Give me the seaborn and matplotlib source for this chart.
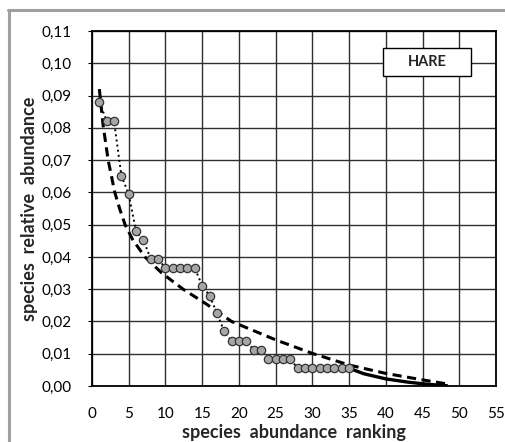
import matplotlib
matplotlib.use('Agg')
import matplotlib.pyplot as plt
import matplotlib.ticker as mticker
from matplotlib.lines import Line2D
from matplotlib.patches import Rectangle
import seaborn as sns
import pandas as pd

sns.set_style('whitegrid')
plt.rcParams['font.family'] = ['Lato', 'DejaVu Sans']

# observed ranks and relative abundances
rank = list(range(1, 36))
abundance = [0.0880, 0.0821, 0.0821, 0.0652, 0.0594, 0.0479, 0.0451, 0.0394, 0.0394,
             0.0365, 0.0365, 0.0365, 0.0365, 0.0365, 0.0311, 0.0280, 0.0226, 0.0169,
             0.0140, 0.0140, 0.0140, 0.0112, 0.0112, 0.0083, 0.0083, 0.0083, 0.0083,
             0.0055, 0.0055, 0.0055, 0.0055, 0.0055, 0.0055, 0.0055, 0.0055]

# fitted model curve (dashed)
fit_x = [1.0, 1.5, 2.2, 3.1, 3.8, 4.5, 5.5, 7.2, 9.5, 12.4, 15.5, 19.0, 25.0, 30.0, 35.0, 40.0, 45.0, 48.7]
fit_y = [0.0920, 0.0810, 0.0700, 0.0600, 0.0547, 0.0500, 0.0455, 0.0400, 0.0350, 0.0300,
         0.0255, 0.0200, 0.0143, 0.0101, 0.0065, 0.0039, 0.0019, 0.0005]

# tail of rare species (solid)
tail_x = [35.0, 37.0, 40.0, 43.0, 45.0, 47.0, 48.3]
tail_y = [0.0055, 0.0038, 0.0022, 0.0012, 0.0007, 0.0003, 0.0001]

obs = pd.DataFrame({'rank': rank, 'abundance': abundance})
fit = pd.DataFrame({'x': fit_x, 'y': fit_y})
tail = pd.DataFrame({'x': tail_x, 'y': tail_y})

fig = plt.figure(figsize=(5.05, 4.42), dpi=100)
ax = fig.add_axes([92 / 505, 56 / 442, 404 / 505, 355 / 442])

sns.lineplot(data=obs, x='rank', y='abundance', ax=ax, color='black',
             linestyle=':', linewidth=1.4, zorder=2)
sns.lineplot(data=fit, x='x', y='y', ax=ax, color='black', linewidth=2.2, zorder=3)
ax.lines[-1].set_dashes((3, 1.8))
sns.lineplot(data=tail, x='x', y='y', ax=ax, color='black', linewidth=2.4, zorder=3)
sns.scatterplot(data=obs, x='rank', y='abundance', ax=ax, s=36, color='#a6a6a6',
                edgecolor='#333333', linewidth=0.9, zorder=4)

ax.set_xlim(0, 55)
ax.set_ylim(0, 0.11)
ax.xaxis.set_major_locator(mticker.MultipleLocator(5))
ax.yaxis.set_major_locator(mticker.MultipleLocator(0.01))
ax.yaxis.set_major_formatter(mticker.FuncFormatter(lambda v, p: f'{v:.2f}'.replace('.', ',')))
ax.grid(True, color='#303030', linewidth=1.0)
for s in ax.spines.values():
    s.set_color('black')
    s.set_linewidth(1.3)
ax.tick_params(axis='both', labelsize=11, colors='black', length=3, width=0.8, direction='out')
ax.tick_params(axis='y', pad=12, left=True)
ax.tick_params(axis='x', pad=12, bottom=False)

ax.set_xlabel('species  abundance  ranking', fontsize=13, fontweight='bold', labelpad=2)
ax.set_ylabel('species  relative  abundance', fontsize=13, fontweight='bold', labelpad=2)

# legend-like label box
ax.add_patch(Rectangle((0.720, 0.873), 0.218, 0.079, transform=ax.transAxes,
                       facecolor='white', edgecolor='black', linewidth=1.0, zorder=6))
ax.text(0.829, 0.9125, 'HARE', transform=ax.transAxes, ha='center', va='center',
        fontsize=10.5, fontweight='bold', zorder=7)

# outer chart frame (only top and left edges fall inside the picture)
fig.add_artist(Line2D([8 / 505, 1.0], [1 - 9.5 / 442, 1 - 9.5 / 442], color='#a0a0a0', linewidth=2.2))
fig.add_artist(Line2D([8.5 / 505, 8.5 / 505], [0.0, 1 - 9.5 / 442], color='#a0a0a0', linewidth=2.2))

fig.savefig('out.png', dpi=100)
